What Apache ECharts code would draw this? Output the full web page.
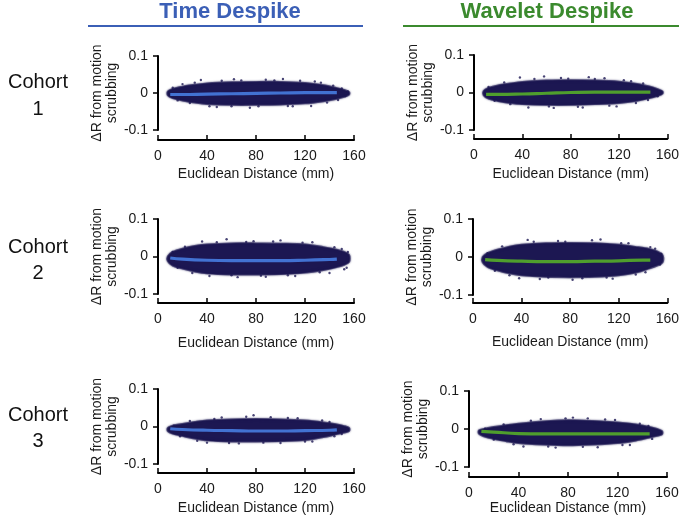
<!DOCTYPE html>
<html>
<head>
<meta charset="utf-8">
<script src="https://cdn.jsdelivr.net/npm/echarts@6/dist/echarts.min.js"></script>
<style>html,body{margin:0;padding:0;background:#fff}#c{width:682px;height:517px}</style>
</head>
<body>
<div id="c"></div>
<script>
// ---- data ----
const xTicks = [0, 40, 80, 120, 160];
const yTicks = [-0.1, 0, 0.1];
const envX = [8, 12, 20, 30, 40, 60, 80, 100, 120, 135, 145, 152, 156];
const fitX = [10, 20, 40, 60, 80, 100, 120, 140, 146];

// Time Despike, Cohort 1
const tc1Upper = [0.004, 0.011, 0.017, 0.022, 0.026, 0.029, 0.030, 0.030, 0.027, 0.021, 0.014, 0.008, 0.002];
const tc1Lower = [-0.006, -0.014, -0.020, -0.026, -0.030, -0.032, -0.032, -0.031, -0.028, -0.022, -0.016, -0.010, -0.004];
const tc1Fit = [-0.004, -0.004, -0.003, -0.002, -0.001, 0.000, 0.001, 0.001, 0.001];
const tc1Out = [[12, 0.014], [16, -0.020], [20, 0.024], [26, -0.027], [30, 0.028], [35, 0.035], [42, -0.036], [48, -0.038], [52, 0.033], [60, -0.036], [62, 0.037], [68, 0.034], [75, -0.040], [82, -0.036], [88, 0.036], [95, 0.034], [102, 0.038], [106, -0.035], [110, -0.036], [116, 0.033], [125, -0.035], [128, 0.031], [133, 0.028], [138, -0.026], [143, 0.020], [147, -0.019], [150, 0.012], [153, -0.008], [155, 0.004]];

// Wavelet Despike, Cohort 1
const wc1Upper = [0.004, 0.012, 0.019, 0.024, 0.028, 0.032, 0.033, 0.032, 0.029, 0.023, 0.016, 0.009, 0.003];
const wc1Lower = [-0.007, -0.016, -0.023, -0.028, -0.031, -0.033, -0.033, -0.031, -0.028, -0.022, -0.015, -0.009, -0.003];
const wc1Fit = [-0.005, -0.005, -0.004, -0.002, 0.000, 0.001, 0.001, 0.001, 0.001];
const wc1Out = [[12, 0.015], [17, -0.022], [25, 0.027], [30, -0.031], [38, 0.040], [45, -0.040], [50, 0.036], [58, 0.043], [62, -0.037], [66, -0.041], [72, 0.039], [78, 0.037], [86, -0.038], [90, -0.040], [95, 0.041], [100, 0.036], [108, 0.038], [112, -0.035], [118, -0.037], [124, 0.033], [130, 0.030], [134, -0.028], [140, 0.024], [144, -0.020], [148, 0.010], [152, -0.010], [155, 0.002]];

// Time Despike, Cohort 2
const tc2Upper = [0.000, 0.012, 0.021, 0.028, 0.032, 0.035, 0.035, 0.034, 0.032, 0.025, 0.019, 0.012, 0.004];
const tc2Lower = [-0.012, -0.024, -0.032, -0.040, -0.045, -0.048, -0.048, -0.047, -0.043, -0.036, -0.029, -0.022, -0.014];
const tc2Fit = [-0.004, -0.007, -0.010, -0.011, -0.011, -0.011, -0.010, -0.008, -0.007];
const tc2Out = [[12, 0.012], [16, -0.030], [22, 0.026], [28, -0.044], [36, 0.040], [42, -0.052], [48, 0.038], [56, 0.046], [60, -0.050], [65, -0.055], [72, 0.039], [78, 0.041], [84, -0.051], [88, -0.054], [94, 0.040], [100, 0.043], [106, -0.050], [112, -0.052], [118, 0.037], [126, 0.038], [132, -0.042], [140, -0.044], [144, 0.025], [150, 0.020], [152, -0.034], [154, -0.030], [155, 0.012]];

// Wavelet Despike, Cohort 2
const wc2Upper = [0.000, 0.010, 0.019, 0.027, 0.032, 0.036, 0.037, 0.036, 0.032, 0.026, 0.021, 0.014, 0.005];
const wc2Lower = [-0.014, -0.026, -0.035, -0.043, -0.048, -0.052, -0.053, -0.052, -0.048, -0.040, -0.030, -0.022, -0.014];
const wc2Fit = [-0.007, -0.009, -0.011, -0.012, -0.012, -0.011, -0.010, -0.008, -0.008];
const wc2Out = [[12, 0.010], [18, -0.036], [24, 0.028], [30, -0.048], [38, -0.056], [45, 0.045], [50, 0.040], [55, -0.058], [62, -0.054], [70, 0.042], [76, 0.040], [82, -0.060], [90, -0.056], [98, 0.044], [105, 0.046], [110, -0.054], [115, -0.057], [122, 0.036], [128, 0.036], [134, -0.046], [142, -0.040], [146, 0.026], [150, 0.022], [154, -0.020], [155, 0.008]];

// Time Despike, Cohort 3
const tc3Upper = [-0.004, 0.002, 0.007, 0.012, 0.016, 0.019, 0.020, 0.019, 0.016, 0.011, 0.006, 0.001, -0.004];
const tc3Lower = [-0.012, -0.019, -0.025, -0.032, -0.037, -0.040, -0.040, -0.039, -0.036, -0.028, -0.021, -0.016, -0.012];
const tc3Fit = [-0.006, -0.008, -0.010, -0.011, -0.012, -0.012, -0.011, -0.010, -0.009];
const tc3Out = [[13, 0.002], [18, -0.026], [26, 0.015], [32, -0.038], [40, -0.043], [46, 0.020], [52, 0.024], [58, -0.044], [66, -0.045], [72, 0.026], [78, 0.030], [86, -0.043], [92, 0.025], [100, -0.044], [106, 0.023], [114, 0.022], [120, -0.040], [126, -0.040], [134, 0.016], [140, 0.012], [144, -0.026], [150, -0.020], [154, -0.006]];

// Wavelet Despike, Cohort 3
const wc3Upper = [-0.004, 0.000, 0.005, 0.010, 0.014, 0.020, 0.023, 0.021, 0.017, 0.012, 0.006, 0.000, -0.006];
const wc3Lower = [-0.012, -0.019, -0.026, -0.032, -0.037, -0.041, -0.043, -0.041, -0.037, -0.030, -0.023, -0.018, -0.014];
const wc3Fit = [-0.006, -0.008, -0.012, -0.013, -0.013, -0.013, -0.013, -0.013, -0.013];
const wc3Out = [[13, 0.001], [20, -0.028], [28, 0.012], [36, -0.040], [44, -0.046], [50, 0.022], [58, 0.026], [64, -0.046], [70, -0.049], [78, 0.028], [84, 0.030], [92, -0.047], [96, 0.028], [104, -0.048], [110, 0.025], [118, 0.024], [124, -0.042], [130, -0.042], [138, 0.014], [145, 0.008], [148, -0.026], [154, -0.012]];

const panels = [
  {up: tc1Upper, lo: tc1Lower, fit: tc1Fit, out: tc1Out, method: 'time'},
  {up: wc1Upper, lo: wc1Lower, fit: wc1Fit, out: wc1Out, method: 'wavelet'},
  {up: tc2Upper, lo: tc2Lower, fit: tc2Fit, out: tc2Out, method: 'time'},
  {up: wc2Upper, lo: wc2Lower, fit: wc2Fit, out: wc2Out, method: 'wavelet'},
  {up: tc3Upper, lo: tc3Lower, fit: tc3Fit, out: tc3Out, method: 'time'},
  {up: wc3Upper, lo: wc3Lower, fit: wc3Fit, out: wc3Out, method: 'wavelet'}
];

// ---- layout / style ----
const FONT = '"Liberation Sans", Arial, sans-serif';
const CLOUD = '#1c1752';
const FITCOL = {time: '#4272d2', wavelet: '#4f9e2d'};
const grids = [
  {left: 158, top: 56, width: 196, height: 74, off: 10, gap: 27},
  {left: 474, top: 55, width: 194, height: 75, off: 9, gap: 28},
  {left: 158, top: 219, width: 196, height: 75, off: 9, gap: 33},
  {left: 473, top: 219, width: 195, height: 76, off: 8, gap: 32},
  {left: 158, top: 389, width: 196, height: 75, off: 9, gap: 28},
  {left: 469, top: 391, width: 198, height: 76, off: 10, gap: 22}
];

const option = {
  animation: false,
  backgroundColor: '#fff',
  textStyle: {fontFamily: FONT},
  grid: grids.map(g => ({left: g.left, top: g.top, width: g.width, height: g.height, containLabel: false})),
  xAxis: grids.map((g, i) => ({
    gridIndex: i, type: 'value', min: xTicks[0], max: xTicks[xTicks.length - 1], interval: 40,
    offset: g.off, splitLine: {show: false},
    axisLine: {show: true, onZero: false, lineStyle: {color: '#000', width: 2}},
    axisTick: {show: true, inside: true, length: 5, lineStyle: {color: '#000', width: 1.5}},
    axisLabel: {color: '#1a1a1a', fontSize: 14, margin: 9, fontFamily: FONT},
    name: 'Euclidean Distance (mm)', nameLocation: 'middle', nameGap: g.gap,
    nameTextStyle: {color: '#1a1a1a', fontSize: 14, fontFamily: FONT}
  })),
  yAxis: grids.map((g, i) => ({
    gridIndex: i, type: 'value', min: yTicks[0], max: yTicks[2], interval: 0.1,
    splitLine: {show: false},
    axisLine: {show: true, onZero: false, lineStyle: {color: '#000', width: 2}},
    axisTick: {show: true, inside: false, length: 5, lineStyle: {color: '#000', width: 1.5}},
    axisLabel: {color: '#1a1a1a', fontSize: 14, margin: 10, fontFamily: FONT,
      formatter: v => Math.abs(v) < 1e-9 ? '0' : v.toFixed(1)},
    name: 'ΔR from motion\nscrubbing', nameLocation: 'middle', nameGap: 36, nameRotate: 90,
    nameTextStyle: {color: '#1a1a1a', fontSize: 14, lineHeight: 15, fontFamily: FONT}
  })),
  series: [],
  graphic: [
    {type: 'text', style: {text: 'Time Despike', x: 230, y: 12, align: 'center', verticalAlign: 'middle', fill: '#3b5fb6', font: 'bold 22px ' + FONT}},
    {type: 'line', shape: {x1: 88, y1: 26, x2: 363, y2: 26}, style: {stroke: '#3b5fb6', lineWidth: 2}},
    {type: 'text', style: {text: 'Wavelet Despike', x: 547, y: 12, align: 'center', verticalAlign: 'middle', fill: '#3b8a2e', font: 'bold 22px ' + FONT}},
    {type: 'line', shape: {x1: 403, y1: 26, x2: 679, y2: 26}, style: {stroke: '#3b8a2e', lineWidth: 2}},
    {type: 'text', style: {text: 'Cohort', x: 38, y: 82, align: 'center', verticalAlign: 'middle', fill: '#111', font: '20px ' + FONT}},
    {type: 'text', style: {text: '1', x: 38, y: 109, align: 'center', verticalAlign: 'middle', fill: '#111', font: '20px ' + FONT}},
    {type: 'text', style: {text: 'Cohort', x: 38, y: 247, align: 'center', verticalAlign: 'middle', fill: '#111', font: '20px ' + FONT}},
    {type: 'text', style: {text: '2', x: 38, y: 273, align: 'center', verticalAlign: 'middle', fill: '#111', font: '20px ' + FONT}},
    {type: 'text', style: {text: 'Cohort', x: 38, y: 415, align: 'center', verticalAlign: 'middle', fill: '#111', font: '20px ' + FONT}},
    {type: 'text', style: {text: '3', x: 38, y: 441, align: 'center', verticalAlign: 'middle', fill: '#111', font: '20px ' + FONT}}
  ]
};

panels.forEach((p, i) => {
  const up = p.up, lo = p.lo;
  option.series.push({
    type: 'custom', xAxisIndex: i, yAxisIndex: i, z: 2, silent: true,
    data: envX.map((x, k) => [x, up[k]]),
    renderItem: (params, api) => {
      if (params.dataIndex !== 0) return null;
      const pts = [];
      for (let k = 0; k < envX.length; k++) pts.push(api.coord([envX[k], up[k]]));
      for (let k = envX.length - 1; k >= 0; k--) pts.push(api.coord([envX[k], lo[k]]));
      return {type: 'polygon', shape: {points: pts, smooth: 0.3},
        style: {fill: CLOUD, stroke: 'rgba(28,23,82,0.6)', lineWidth: 2,
          shadowBlur: 2, shadowColor: 'rgba(28,23,82,0.9)'}};
    }
  });
  option.series.push({
    type: 'scatter', xAxisIndex: i, yAxisIndex: i, z: 3, silent: true,
    symbolSize: 2.4, itemStyle: {color: CLOUD}, data: p.out
  });
  option.series.push({
    type: 'line', xAxisIndex: i, yAxisIndex: i, z: 4, silent: true,
    showSymbol: false, smooth: true,
    lineStyle: {color: FITCOL[p.method], width: 3.2},
    data: fitX.map((x, k) => [x, p.fit[k]])
  });
});

const chart = echarts.init(document.getElementById('c'), null, {renderer: 'canvas'});
chart.setOption(option);
</script>
</body>
</html>
